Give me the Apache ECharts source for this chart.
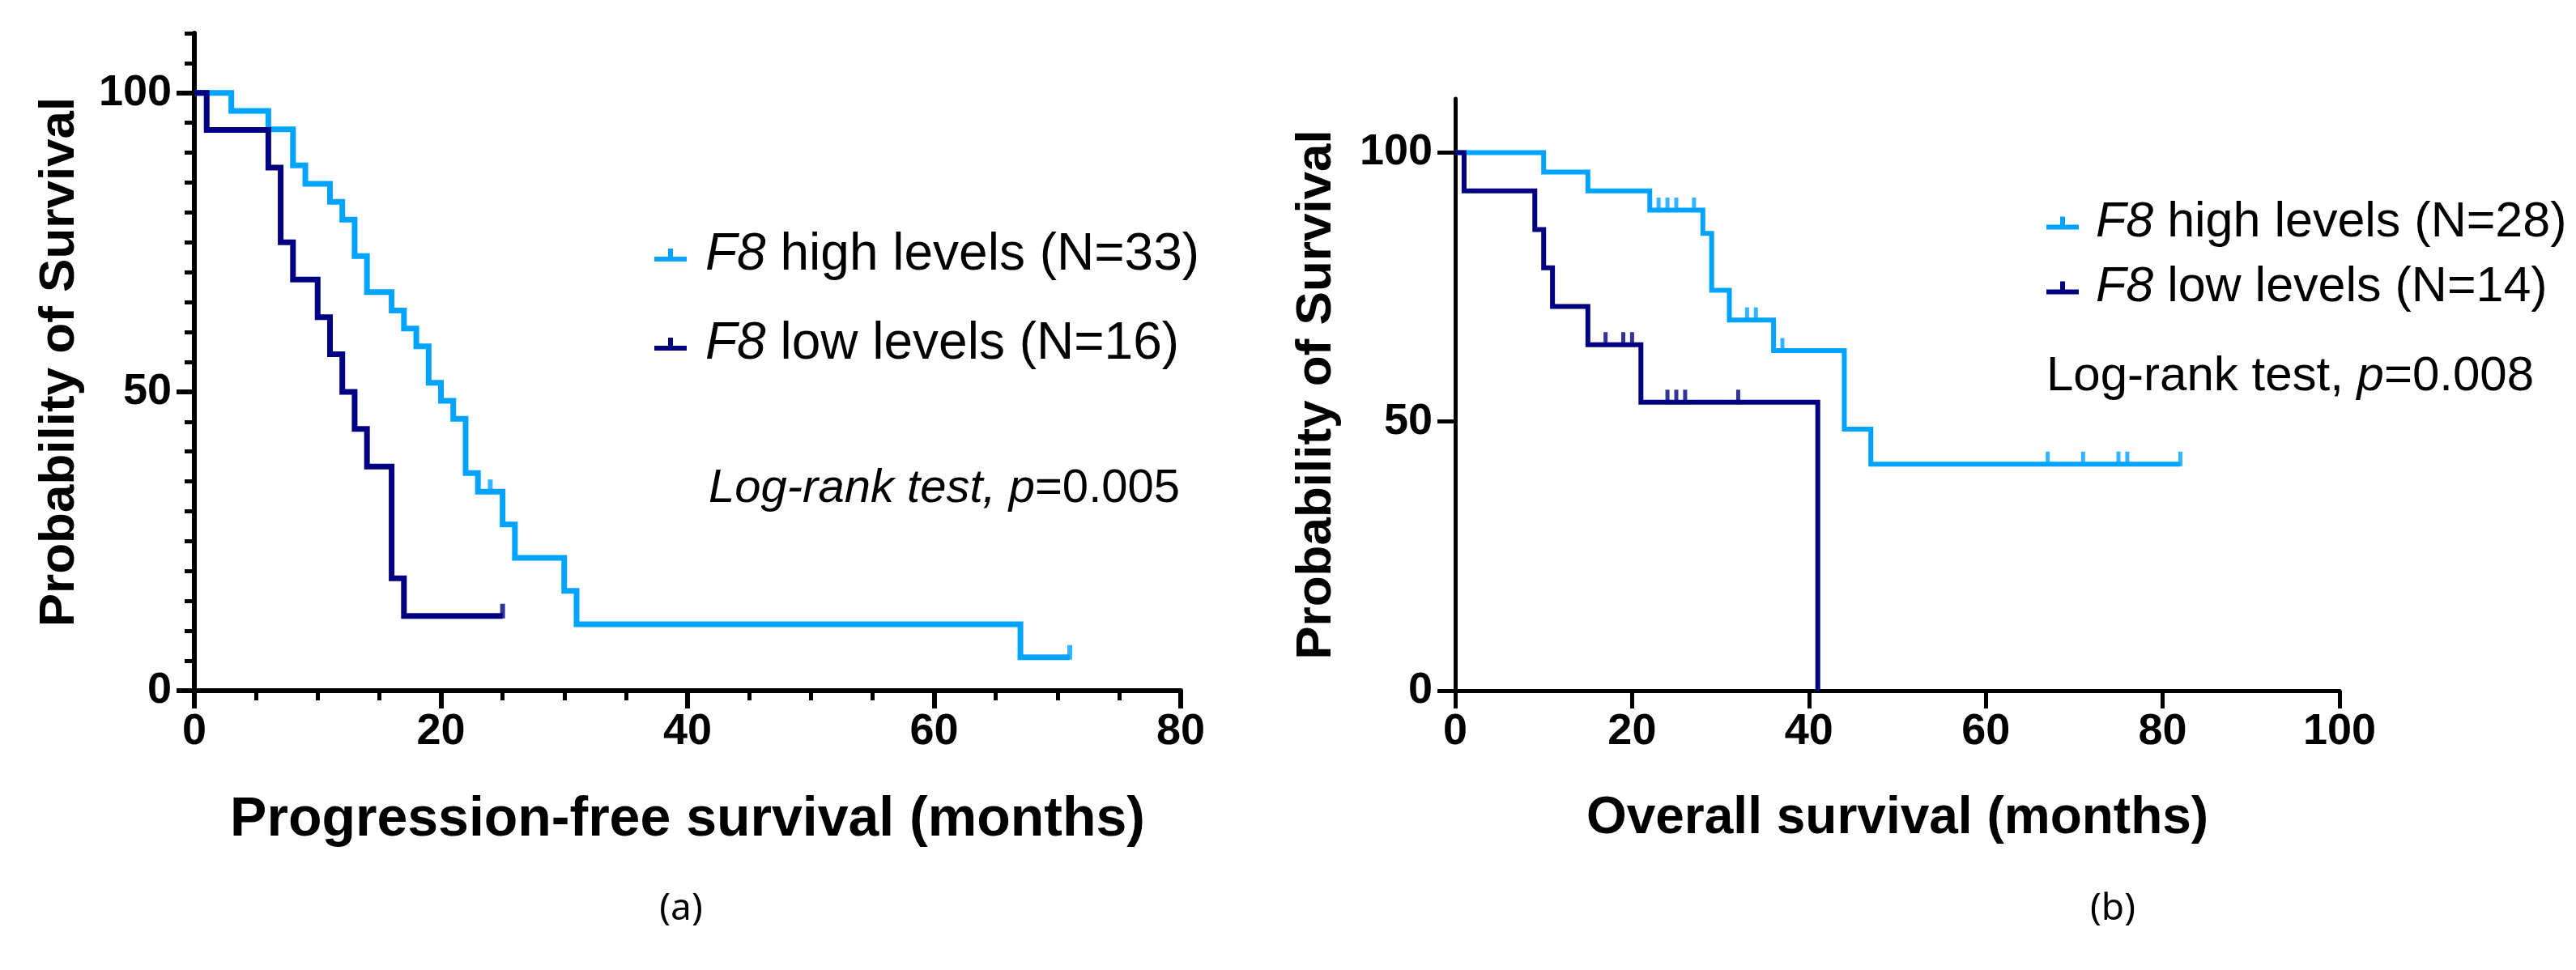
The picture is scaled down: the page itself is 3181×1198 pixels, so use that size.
<!DOCTYPE html>
<html><head><meta charset="utf-8">
<script src="https://cdn.jsdelivr.net/npm/echarts@6/dist/echarts.min.js"></script>
<style>html,body{margin:0;padding:0;background:#fff}#c{width:3181px;height:1198px}</style>
</head><body><div id="c"></div>
<script>
// ---------- Panel (a): progression-free survival ----------
const pfsHighTimes = [0,3,6,8,9,11,12,13,14,16,17,18,19,20,21,22,23,25,26,30,31,67];
const pfsHighSurv  = [100,97.0,93.9,87.9,84.8,81.8,78.8,72.7,66.7,63.6,60.6,57.6,51.5,48.5,45.5,36.4,33.3,27.8,22.2,16.7,11.1,5.6];
const pfsHighEnd = 71;
const pfsHighCensor = [24,71];
const pfsLowTimes = [0,1,6,7,8,10,11,12,13,14,16,17];
const pfsLowSurv  = [100,93.8,87.5,75.0,68.8,62.5,56.3,50.0,43.8,37.5,18.8,12.5];
const pfsLowEnd = 25;
const pfsLowCensor = [25];
// ---------- Panel (b): overall survival ----------
const osHighTimes = [0,10,15,22,28,29,31,36,44,47];
const osHighSurv  = [100,96.4,92.9,89.3,85.0,74.4,68.9,63.2,48.6,42.1];
const osHighEnd = 82;
const osHighCensor = [23,24,25,27,33,34,37,67,71,75,76,82];
const osLowTimes = [0,1,9,10,11,15,21,41];
const osLowSurv  = [100,92.9,85.7,78.6,71.4,64.3,53.6,0];
const osLowEnd = 41;
const osLowCensor = [17,19,20,24,25,26,32];

const yTickValues = [0,50,100];
const legendA = ['F8 high levels (N=33)','F8 low levels (N=16)'];
const legendB = ['F8 high levels (N=28)','F8 low levels (N=14)'];

const LIGHT = '#00A3FF', DARK = '#000080';
const FONT = "'Liberation Sans', Arial, sans-serif";

function stepPoints(times, surv, end){
  const pts = [[times[0], surv[0]]];
  for (let i = 1; i < times.length; i++){
    pts.push([times[i], surv[i-1]]);
    pts.push([times[i], surv[i]]);
  }
  if (end > times[times.length-1]) pts.push([end, surv[surv.length-1]]);
  return pts;
}
function survAt(times, surv, t){
  let s = surv[0];
  for (let i = 0; i < times.length; i++) if (times[i] <= t) s = surv[i];
  return s;
}
function censorPts(times, surv, cens){ return cens.map(t => [t, survAt(times, surv, t)]); }

const chart = echarts.init(document.getElementById('c'), null, {renderer:'canvas'});

const tickLabel = {fontSize:54, fontWeight:'bold', color:'#000', fontFamily:FONT};
function nameStyle(sz){ return {fontSize:sz, fontWeight:'bold', color:'#000', fontFamily:FONT}; }

function majorX(grid, max, lw, name, nameSize){
  return {gridIndex:grid, type:'value', position:'bottom', min:0, max:max, interval:20,
    axisLine:{show:true, onZero:false, lineStyle:{color:'#000', width:lw}},
    axisTick:{show:true, length:22, lineStyle:{color:'#000', width:lw}},
    axisLabel:{...tickLabel, margin:24},
    splitLine:{show:false},
    name:name, nameLocation:'middle', nameGap:126, nameTextStyle:nameStyle(nameSize)};
}
function minorX(grid, max, lw){
  return {gridIndex:grid, type:'value', position:'bottom', min:0, max:max, interval:5,
    axisLine:{show:false}, axisTick:{show:true, length:12, lineStyle:{color:'#000', width:lw}},
    axisLabel:{show:false}, splitLine:{show:false}};
}
function majorY(grid, lw, gap){
  return {gridIndex:grid, type:'value', position:'left', min:0, max:110, interval:50,
    axisLine:{show:true, onZero:false, lineStyle:{color:'#000', width:lw}},
    axisTick:{show:true, length:22, customValues:yTickValues, lineStyle:{color:'#000', width:lw}},
    axisLabel:{...tickLabel, margin:28, customValues:yTickValues},
    splitLine:{show:false},
    name:'Probability of Survival', nameLocation:'middle', nameRotate:90, nameGap:gap, nameTextStyle:nameStyle(62)};
}
function minorY(grid, lw){
  return {gridIndex:grid, type:'value', position:'left', min:0, max:110, interval:5,
    axisLine:{show:false}, axisTick:{show:true, length:12, lineStyle:{color:'#000', width:lw}},
    axisLabel:{show:false}, splitLine:{show:false}};
}

function lineSeries(name, pts, color, lw, xi, yi){
  return {name:name, type:'line', data:pts, xAxisIndex:xi, yAxisIndex:yi, symbol:'none',
    lineStyle:{color:color, width:lw, join:'miter', cap:'butt'}, itemStyle:{color:color},
    clip:false, silent:true, animation:false, z:3};
}
function censorSeries(name, pts, color, lw, h, xi, yi){
  return {name:name, type:'scatter', data:pts, xAxisIndex:xi, yAxisIndex:yi, symbol:'rect',
    symbolSize:[lw, h], symbolOffset:[0, -h/2 + lw/2], itemStyle:{color:color},
    clip:false, silent:true, animation:false, z:4};
}

const iconPath = 'path://M0,10 L40,10 L40,16 L0,16 Z M17,0 L23,0 L23,10 L17,10 Z';
function legendCfg(names, left, top, gap, fs, sw){
  return {data:names, orient:'vertical', left:left, top:top, itemGap:gap, icon:iconPath,
    itemWidth:40, itemHeight:16, selectedMode:false,
    formatter: n => '{s|}{i|F8}' + n.slice(2),
    textStyle:{fontSize:fs, fontWeight:'normal', color:'#000', fontFamily:FONT,
      rich:{s:{width:sw}, i:{fontStyle:'italic', fontWeight:'normal', fontSize:fs, fontFamily:FONT, color:'#000'}}}};
}
function txt(fs, italic){ return {fontSize:fs, fontStyle: italic ? 'italic' : 'normal', fontWeight:'normal', fontFamily:FONT, color:'#000'}; }

const option = {
  backgroundColor:'#fff',
  animation:false,
  grid:[
    {left:240, top:41, width:1218, height:812, containLabel:false},
    {left:1797, top:122, width:1092, height:731, containLabel:false}
  ],
  xAxis:[
    majorX(0, 80, 6, 'Progression-free survival (months)', 68),
    minorX(0, 80, 5),
    majorX(1, 100, 5, 'Overall survival (months)', 64)
  ],
  yAxis:[
    majorY(0, 6, 135),
    minorY(0, 5),
    majorY(1, 5, 140)
  ],
  legend:[ legendCfg(legendA, 803, 278, 46, 64, 18), legendCfg(legendB, 2522, 240, 19, 61, 16) ],
  title:[
    {text:'{a|Log-rank test, }{p|p}{b|=0.005}', left:870, top:570,
     textStyle:{fontWeight:'normal', rich:{a:txt(58, true), p:txt(58, true), b:txt(58, false)}}},
    {text:'{a|Log-rank test, }{p|p}{a|=0.008}', left:2522, top:430,
     textStyle:{fontWeight:'normal', rich:{a:txt(60, false), p:txt(60, true)}}},
    {text:'(a)', left:836, top:1095, textAlign:'center',
     textStyle:{fontSize:46, fontWeight:'normal', fontFamily:"'Noto Sans', sans-serif", color:'#000'}},
    {text:'(b)', left:2604, top:1095, textAlign:'center',
     textStyle:{fontSize:46, fontWeight:'normal', fontFamily:"'Noto Sans', sans-serif", color:'#000'}}
  ],
  series:[
    lineSeries(legendA[0], stepPoints(pfsHighTimes, pfsHighSurv, pfsHighEnd), LIGHT, 7, 0, 0),
    lineSeries(legendA[1], stepPoints(pfsLowTimes, pfsLowSurv, pfsLowEnd), DARK, 7, 0, 0),
    censorSeries('pfs-high-censored', censorPts(pfsHighTimes, pfsHighSurv, pfsHighCensor), LIGHT, 6, 18, 0, 0),
    censorSeries('pfs-low-censored', censorPts(pfsLowTimes, pfsLowSurv, pfsLowCensor), DARK, 6, 18, 0, 0),
    lineSeries(legendB[0], stepPoints(osHighTimes, osHighSurv, osHighEnd), LIGHT, 6, 2, 2),
    lineSeries(legendB[1], stepPoints(osLowTimes, osLowSurv, osLowEnd), DARK, 6, 2, 2),
    censorSeries('os-high-censored', censorPts(osHighTimes, osHighSurv, osHighCensor), LIGHT, 5, 18, 2, 2),
    censorSeries('os-low-censored', censorPts(osLowTimes, osLowSurv, osLowCensor), DARK, 5, 18, 2, 2)
  ]
};
chart.setOption(option);
</script>
</body></html>
